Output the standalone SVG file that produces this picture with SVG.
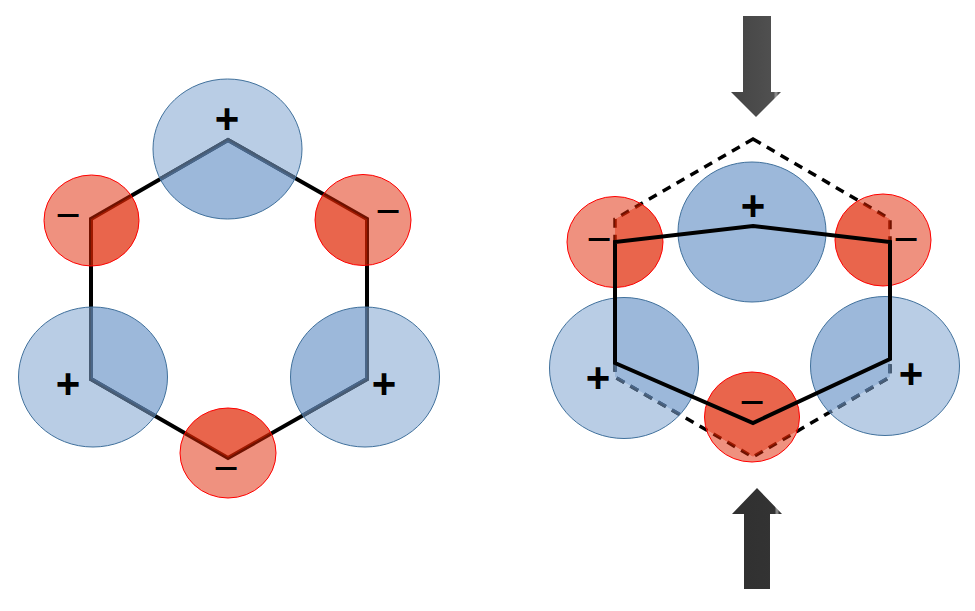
<svg xmlns="http://www.w3.org/2000/svg" width="975" height="611" viewBox="0 0 975 611">
<style>
.bg{fill:#ffffff}
.bo{fill:#4f81bd;fill-opacity:0.4}
.bi{fill:#4f81bd;fill-opacity:0.56}
.bs{fill:none;stroke:#41719c;stroke-width:1}
.ro{fill:#e02300;fill-opacity:0.5}
.ri{fill:#e02300;fill-opacity:0.7}
.rs{fill:none;stroke:#ff0000;stroke-width:1}
.hex{fill:none;stroke:#000;stroke-width:4;stroke-linejoin:miter}
.hexg{fill:none;stroke:#444;stroke-width:4;stroke-linejoin:miter}
.dash{fill:none;stroke:#000;stroke-width:3.5;stroke-dasharray:9 7}
.dashg{fill:none;stroke:#444;stroke-width:3.5;stroke-dasharray:9 7}
.plus{font-family:"Liberation Sans",Arial,sans-serif;font-weight:bold;font-size:42px;text-anchor:middle;dominant-baseline:central;fill:#000}
.minus{font-family:"Liberation Sans",Arial,sans-serif;font-size:43px;text-anchor:middle;dominant-baseline:central;fill:#000}
</style>
<defs>
<clipPath id="inL"><polygon points="228,140 367,219 367,379 228,458 91,379 91,219"/></clipPath>
<clipPath id="outL"><path clip-rule="evenodd" d="M0 0H975V611H0Z M228,140 L367,219 L367,379 L228,458 L91,379 L91,219 Z"/></clipPath>
<clipPath id="inR"><polygon points="753,139 890,219 890,377 753,457 615,377 615,219"/></clipPath>
<clipPath id="outR"><path clip-rule="evenodd" d="M0 0H975V611H0Z M753,139 L890,219 L890,377 L753,457 L615,377 L615,219 Z"/></clipPath>
<clipPath id="blueL">
<ellipse cx="227.5" cy="149" rx="74.5" ry="70"/>
<ellipse cx="93" cy="377" rx="74.5" ry="70"/>
<ellipse cx="365" cy="377" rx="74.5" ry="70"/>
</clipPath>
<clipPath id="blueR">
<ellipse cx="752" cy="232" rx="74" ry="70"/>
<ellipse cx="624" cy="368" rx="74.5" ry="70.5"/>
<ellipse cx="885" cy="366" rx="74.5" ry="69.5"/>
</clipPath>
<linearGradient id="gTop" x1="0" y1="0" x2="1" y2="0">
<stop offset="0" stop-color="#444"/><stop offset="0.85" stop-color="#505050"/><stop offset="0.9" stop-color="#9a9a9a"/><stop offset="0.95" stop-color="#505050"/><stop offset="1" stop-color="#4a4a4a"/>
</linearGradient>
<linearGradient id="gBot" x1="0" y1="0" x2="1" y2="0">
<stop offset="0" stop-color="#303030"/><stop offset="0.85" stop-color="#333"/><stop offset="0.9" stop-color="#999"/><stop offset="0.95" stop-color="#333"/><stop offset="1" stop-color="#333"/>
</linearGradient>
</defs>
<rect class="bg" x="0" y="0" width="975" height="611"/>

<g id="connectors">
<polygon id="hexLeft" class="hex" points="228,140 367,219 367,379 228,458 91,379 91,219"/>
<polygon class="hexg" clip-path="url(#blueL)" points="228,140 367,219 367,379 228,458 91,379 91,219"/>
<polygon id="hexRightOriginal" class="dash" points="753,139 890,219 890,377 753,457 615,377 615,219"/>
<polygon class="dashg" clip-path="url(#blueR)" points="753,139 890,219 890,377 753,457 615,377 615,219"/>
</g>

<!-- Left figure -->
<g id="L_top">
<ellipse class="bo" clip-path="url(#outL)" cx="227.5" cy="149" rx="74.5" ry="70"/>
<ellipse class="bi" clip-path="url(#inL)" cx="227.5" cy="149" rx="74.5" ry="70"/>
<ellipse class="bs" cx="227.5" cy="149" rx="74.5" ry="70"/>
<text class="plus" x="227" y="118">+</text>
</g>
<g id="L_upperLeft">
<ellipse class="ro" clip-path="url(#outL)" cx="91.5" cy="220.5" rx="47.5" ry="45.5"/>
<ellipse class="ri" clip-path="url(#inL)" cx="91.5" cy="220.5" rx="47.5" ry="45.5"/>
<ellipse class="rs" cx="91.5" cy="220.5" rx="47.5" ry="45.5"/>
<text class="minus" x="68" y="215">−</text>
</g>
<g id="L_upperRight">
<ellipse class="ro" clip-path="url(#outL)" cx="363" cy="220" rx="48" ry="45.5"/>
<ellipse class="ri" clip-path="url(#inL)" cx="363" cy="220" rx="48" ry="45.5"/>
<ellipse class="rs" cx="363" cy="220" rx="48" ry="45.5"/>
<text class="minus" x="388" y="211">−</text>
</g>
<g id="L_lowerLeft">
<ellipse class="bo" clip-path="url(#outL)" cx="93" cy="377" rx="74.5" ry="70"/>
<ellipse class="bi" clip-path="url(#inL)" cx="93" cy="377" rx="74.5" ry="70"/>
<ellipse class="bs" cx="93" cy="377" rx="74.5" ry="70"/>
<text class="plus" x="68" y="383">+</text>
</g>
<g id="L_lowerRight">
<ellipse class="bo" clip-path="url(#outL)" cx="365" cy="377" rx="74.5" ry="70"/>
<ellipse class="bi" clip-path="url(#inL)" cx="365" cy="377" rx="74.5" ry="70"/>
<ellipse class="bs" cx="365" cy="377" rx="74.5" ry="70"/>
<text class="plus" x="384" y="383">+</text>
</g>
<g id="L_bottom">
<ellipse class="ro" clip-path="url(#outL)" cx="228" cy="453" rx="48" ry="45"/>
<ellipse class="ri" clip-path="url(#inL)" cx="228" cy="453" rx="48" ry="45"/>
<ellipse class="rs" cx="228" cy="453" rx="48" ry="45"/>
<text class="minus" x="226" y="468">−</text>
</g>

<!-- Right figure -->
<g id="R_top">
<ellipse class="bo" clip-path="url(#outR)" cx="752" cy="232" rx="74" ry="70"/>
<ellipse class="bi" clip-path="url(#inR)" cx="752" cy="232" rx="74" ry="70"/>
<ellipse class="bs" cx="752" cy="232" rx="74" ry="70"/>
<text class="plus" x="753" y="205">+</text>
</g>
<g id="R_upperLeft">
<ellipse class="ro" clip-path="url(#outR)" cx="615" cy="242" rx="48" ry="45.5"/>
<ellipse class="ri" clip-path="url(#inR)" cx="615" cy="242" rx="48" ry="45.5"/>
<ellipse class="rs" cx="615" cy="242" rx="48" ry="45.5"/>
<text class="minus" x="599" y="239">−</text>
</g>
<g id="R_upperRight">
<ellipse class="ro" clip-path="url(#outR)" cx="883" cy="240" rx="48" ry="46"/>
<ellipse class="ri" clip-path="url(#inR)" cx="883" cy="240" rx="48" ry="46"/>
<ellipse class="rs" cx="883" cy="240" rx="48" ry="46"/>
<text class="minus" x="906" y="239">−</text>
</g>
<g id="R_lowerLeft">
<ellipse class="bo" clip-path="url(#outR)" cx="624" cy="368" rx="74.5" ry="70.5"/>
<ellipse class="bi" clip-path="url(#inR)" cx="624" cy="368" rx="74.5" ry="70.5"/>
<ellipse class="bs" cx="624" cy="368" rx="74.5" ry="70.5"/>
<text class="plus" x="598" y="377">+</text>
</g>
<g id="R_lowerRight">
<ellipse class="bo" clip-path="url(#outR)" cx="885" cy="366" rx="74.5" ry="69.5"/>
<ellipse class="bi" clip-path="url(#inR)" cx="885" cy="366" rx="74.5" ry="69.5"/>
<ellipse class="bs" cx="885" cy="366" rx="74.5" ry="69.5"/>
<text class="plus" x="911" y="373">+</text>
</g>
<g id="R_bottom">
<ellipse class="ro" clip-path="url(#outR)" cx="752" cy="417" rx="47.5" ry="45"/>
<ellipse class="ri" clip-path="url(#inR)" cx="752" cy="417" rx="47.5" ry="45"/>
<ellipse class="rs" cx="752" cy="417" rx="47.5" ry="45"/>
<text class="minus" x="752" y="402">−</text>
</g>

<g id="connectors-top">
<polygon id="hexRightDeformed" class="hex" points="753,226 890,242 890,359 753,423 615,363 615,242"/>
</g>

<g id="arrowDown">
<polygon fill="url(#gTop)" points="743,16 771,16 771,92 781,92 756,117 731,92 743,92"/>
</g>
<g id="arrowUp">
<polygon fill="url(#gBot)" points="757,488 782,514 770,514 770,589 744,589 744,514 732,514"/>
</g>
</svg>
